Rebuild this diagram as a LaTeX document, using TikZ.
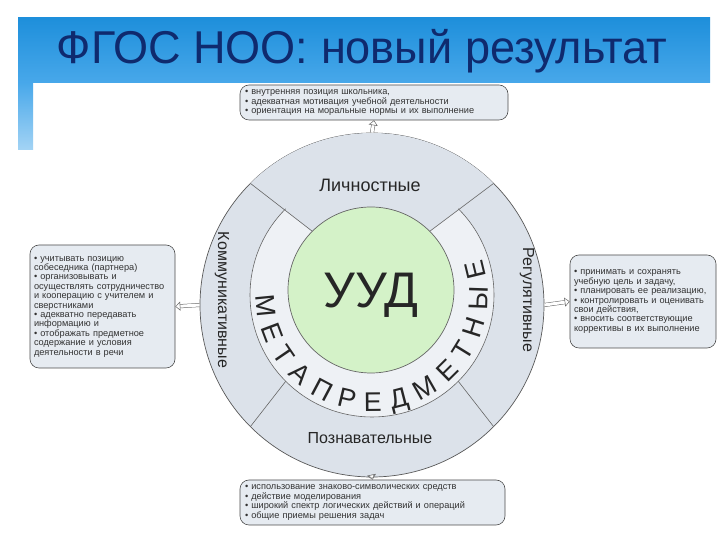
\documentclass[tikz,border=0pt]{standalone}
\usepackage{fontspec}
\setmainfont{Liberation Sans}
\usetikzlibrary{decorations.text,shapes.arrows,calc,arrows.meta}
\definecolor{ringc}{HTML}{DCE2EA}
\definecolor{innerc}{HTML}{EEF1F5}
\definecolor{greenc}{HTML}{D4F2C8}
\definecolor{boxc}{HTML}{E6EBF1}
\definecolor{titlec}{HTML}{0F2A6E}
\definecolor{bandtop}{HTML}{1E8FDB}
\definecolor{bandbot}{HTML}{48A8EA}
\tikzset{
  callout/.style={draw=black!70,fill=boxc,rounded corners=9pt,line width=0.6pt,inner sep=3pt,align=left,font=\fontsize{9.2}{9.4}\selectfont,text=black!80},
  seglabel/.style={font=\fontsize{18}{18}\selectfont,text=black!85},
  conn/.style={-{Triangle[open,length=5pt,width=9pt]},double,double distance=3pt,black!60,line width=0.5pt},
  divider/.style={black!60,line width=0.6pt}
}
\begin{document}
\begin{tikzpicture}[x=1pt,y=1pt]
\useasboundingbox (0,0) rectangle (720,540);
\fill[white] (0,0) rectangle (720,540);
% title band
\shade[top color=bandtop,bottom color=bandbot] (18,457) rectangle (710,522);
\shade[top color=bandbot,bottom color=bandbot!50] (18,390) rectangle (33,457);
\node[font=\fontsize{46}{46}\selectfont,text=titlec,xscale=0.98] (title) at (362,489) {ФГОС НОО: новый результат};
% circles
\coordinate (O) at (372,235);
\coordinate (I) at (372,245);
\coordinate (G) at (371,250);
\node[circle,minimum size=344pt,inner sep=0pt,draw=black!65,line width=0.7pt,fill=ringc] (outer) at (O) {};
\fill[innerc] (I) circle[radius=122];
\fill[ringc] ($(G)+(45:83)$) -- ($(O)+(45:172)$) arc[start angle=45,end angle=135,radius=172] -- ($(G)+(135:83)$) arc[start angle=135,end angle=45,radius=83] -- cycle;
\draw[divider] ($(I)+(135:122)$) arc[start angle=135,end angle=405,radius=122];
\draw[divider] ($(G)+(45:83)$) -- ($(O)+(45:172)$);
\draw[divider] ($(G)+(135:83)$) -- ($(O)+(135:172)$);
\draw[divider] ($(I)+(225:122)$) -- ($(O)+(225:172)$);
\draw[divider] ($(I)+(315:122)$) -- ($(O)+(315:172)$);
\node[circle,minimum size=166pt,inner sep=0pt,draw=black!60,line width=0.7pt,fill=greenc] (green) at (G) {};
\node[font=\fontsize{50}{50}\selectfont,text=black!85] (uud) at (371,245) {УУД};
% segment labels
\node[seglabel] (lich) at (370,355) {Личностные};
\node[seglabel,font=\fontsize{16}{16}\selectfont] (pozn) at (370,102) {Познавательные};
\node[seglabel,font=\fontsize{16}{16}\selectfont,rotate=-90] (komm) at (222,240) {Коммуникативные};
\node[seglabel,font=\fontsize{16}{16}\selectfont,rotate=-90] (reg) at (527,240) {Регулятивные};
% arc text
\path[decorate,decoration={text along path,text align=fit to path,
  text={|\fontsize{27}{27}\selectfont\color{black!85}|МЕТАПРЕДМЕТНЫЕ}}]
  ($(I)+(180:116)$) arc[start angle=180,end angle=378,radius=116];
% callouts
\node[callout,minimum width=268pt,minimum height=35pt,text width=258pt] (top) at (374,437.5) {•\ внутренняя позиция школьника,\\•\ адекватная мотивация учебной деятельности\\•\ ориентация на моральные нормы и их выполнение};
\node[callout,minimum width=145pt,minimum height=123pt,text width=137pt] (left) at (102.5,233.5) {• учитывать позицию собеседника (партнера)\\• организовывать и осуществлять сотрудничество и кооперацию с учителем и сверстниками\\• адекватно передавать информацию и\\• отображать предметное содержание и условия деятельности в речи};
\node[callout,minimum width=146pt,minimum height=93pt,text width=138pt] (right) at (643,238.5) {• принимать и сохранять учебную цель и задачу,\\• планировать ее реализацию,\\• контролировать и оценивать свои действия,\\• вносить соответствующие коррективы в их выполнение};
\node[callout,minimum width=265pt,minimum height=45pt,text width=255pt] (bottom) at (372.5,37.5) {•\ использование знаково-символических средств\\•\ действие моделирования\\•\ широкий спектр логических действий и операций\\•\ общие приемы решения задач};
% connectors
\draw[conn] (outer.north) -- (top.south);
\draw[conn] (outer.west) -- (left.east);
\draw[conn] (outer.east) -- (right.west);
\draw[conn] (outer.south) -- (bottom.north);
\end{tikzpicture}
\end{document}
